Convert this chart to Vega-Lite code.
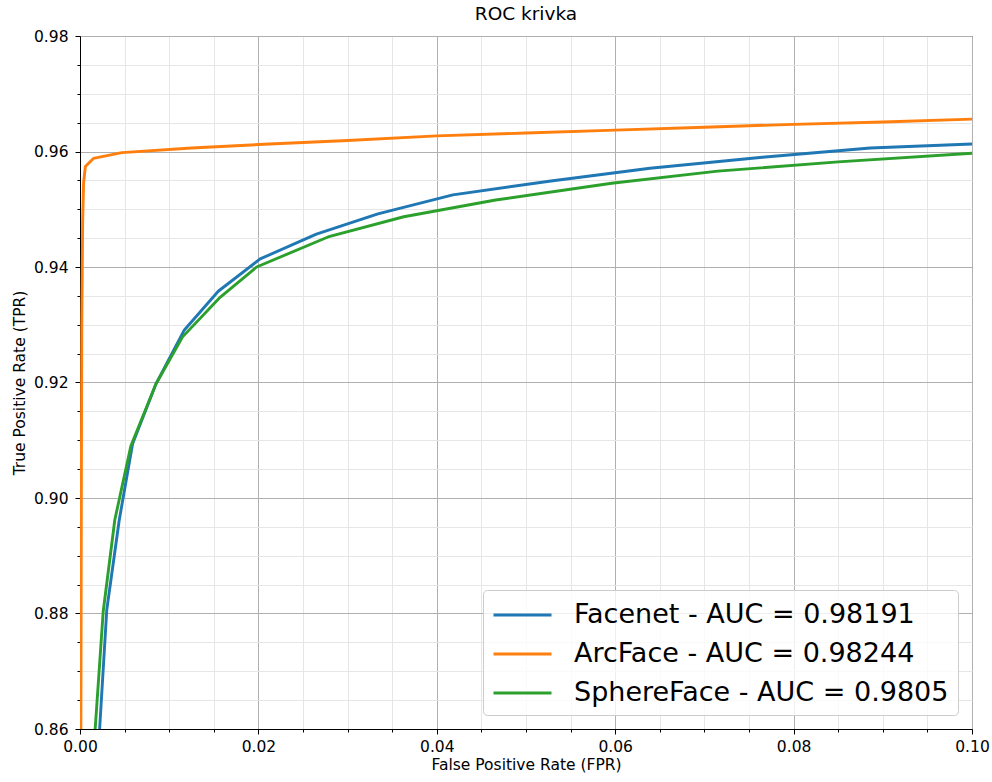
{
  "$schema": "https://vega.github.io/schema/vega-lite/v6.json",
  "width": 892,
  "height": 693,
  "autosize": "none",
  "padding": {"left": 80, "top": 36, "right": 20, "bottom": 53},
  "title": {"text": "ROC krivka", "fontSize": 18.5, "fontWeight": "normal", "color": "black", "offset": 6, "anchor": "middle"},
  "data": {"values": [
    {"model": "ArcFace - AUC = 0.98244", "fpr": 0.0001, "tpr": 0.86},
    {"model": "ArcFace - AUC = 0.98244", "fpr": 0.00015, "tpr": 0.90},
    {"model": "ArcFace - AUC = 0.98244", "fpr": 0.0002, "tpr": 0.93},
    {"model": "ArcFace - AUC = 0.98244", "fpr": 0.0003, "tpr": 0.948},
    {"model": "ArcFace - AUC = 0.98244", "fpr": 0.0004, "tpr": 0.9545},
    {"model": "ArcFace - AUC = 0.98244", "fpr": 0.0006, "tpr": 0.9574},
    {"model": "ArcFace - AUC = 0.98244", "fpr": 0.0015, "tpr": 0.9588},
    {"model": "ArcFace - AUC = 0.98244", "fpr": 0.0047, "tpr": 0.9598},
    {"model": "ArcFace - AUC = 0.98244", "fpr": 0.0125, "tpr": 0.9606},
    {"model": "ArcFace - AUC = 0.98244", "fpr": 0.02, "tpr": 0.9612},
    {"model": "ArcFace - AUC = 0.98244", "fpr": 0.03, "tpr": 0.9619},
    {"model": "ArcFace - AUC = 0.98244", "fpr": 0.04, "tpr": 0.9627},
    {"model": "ArcFace - AUC = 0.98244", "fpr": 0.05, "tpr": 0.9632},
    {"model": "ArcFace - AUC = 0.98244", "fpr": 0.06, "tpr": 0.9637},
    {"model": "ArcFace - AUC = 0.98244", "fpr": 0.07, "tpr": 0.9642},
    {"model": "ArcFace - AUC = 0.98244", "fpr": 0.08, "tpr": 0.9647},
    {"model": "ArcFace - AUC = 0.98244", "fpr": 0.09, "tpr": 0.9651},
    {"model": "ArcFace - AUC = 0.98244", "fpr": 0.1, "tpr": 0.9656},
    {"model": "Facenet - AUC = 0.98191", "fpr": 0.0022, "tpr": 0.86},
    {"model": "Facenet - AUC = 0.98191", "fpr": 0.0030, "tpr": 0.8806},
    {"model": "Facenet - AUC = 0.98191", "fpr": 0.0044, "tpr": 0.8962},
    {"model": "Facenet - AUC = 0.98191", "fpr": 0.0059, "tpr": 0.9094},
    {"model": "Facenet - AUC = 0.98191", "fpr": 0.0085, "tpr": 0.9197},
    {"model": "Facenet - AUC = 0.98191", "fpr": 0.0117, "tpr": 0.9291},
    {"model": "Facenet - AUC = 0.98191", "fpr": 0.0155, "tpr": 0.9358},
    {"model": "Facenet - AUC = 0.98191", "fpr": 0.0202, "tpr": 0.9414},
    {"model": "Facenet - AUC = 0.98191", "fpr": 0.0265, "tpr": 0.9457},
    {"model": "Facenet - AUC = 0.98191", "fpr": 0.0334, "tpr": 0.9492},
    {"model": "Facenet - AUC = 0.98191", "fpr": 0.0418, "tpr": 0.9525},
    {"model": "Facenet - AUC = 0.98191", "fpr": 0.0528, "tpr": 0.9549},
    {"model": "Facenet - AUC = 0.98191", "fpr": 0.0639, "tpr": 0.9571},
    {"model": "Facenet - AUC = 0.98191", "fpr": 0.0765, "tpr": 0.9590},
    {"model": "Facenet - AUC = 0.98191", "fpr": 0.0886, "tpr": 0.9606},
    {"model": "Facenet - AUC = 0.98191", "fpr": 0.1, "tpr": 0.9613},
    {"model": "SphereFace - AUC = 0.9805", "fpr": 0.0017, "tpr": 0.86},
    {"model": "SphereFace - AUC = 0.9805", "fpr": 0.0026, "tpr": 0.8803},
    {"model": "SphereFace - AUC = 0.9805", "fpr": 0.0039, "tpr": 0.8962},
    {"model": "SphereFace - AUC = 0.9805", "fpr": 0.0057, "tpr": 0.9090},
    {"model": "SphereFace - AUC = 0.9805", "fpr": 0.0085, "tpr": 0.9197},
    {"model": "SphereFace - AUC = 0.9805", "fpr": 0.0115, "tpr": 0.9279},
    {"model": "SphereFace - AUC = 0.9805", "fpr": 0.0156, "tpr": 0.9346},
    {"model": "SphereFace - AUC = 0.9805", "fpr": 0.0198, "tpr": 0.9400},
    {"model": "SphereFace - AUC = 0.9805", "fpr": 0.0278, "tpr": 0.9452},
    {"model": "SphereFace - AUC = 0.9805", "fpr": 0.0363, "tpr": 0.9487},
    {"model": "SphereFace - AUC = 0.9805", "fpr": 0.0466, "tpr": 0.9516},
    {"model": "SphereFace - AUC = 0.9805", "fpr": 0.0596, "tpr": 0.9545},
    {"model": "SphereFace - AUC = 0.9805", "fpr": 0.0715, "tpr": 0.9566},
    {"model": "SphereFace - AUC = 0.9805", "fpr": 0.085, "tpr": 0.9582},
    {"model": "SphereFace - AUC = 0.9805", "fpr": 0.1, "tpr": 0.9597}
  ]},
  "mark": {"type": "line", "strokeWidth": 2.9, "clip": true, "strokeJoin": "round"},
  "encoding": {
    "x": {
      "field": "fpr", "type": "quantitative",
      "scale": {"domain": [0, 0.1], "nice": false, "zero": false},
      "axis": {
        "title": "False Positive Rate (FPR)",
        "values": [0, 0.005, 0.01, 0.015, 0.02, 0.025, 0.03, 0.035, 0.04, 0.045, 0.05, 0.055, 0.06, 0.065, 0.07, 0.075, 0.08, 0.085, 0.09, 0.095, 0.1],
        "labelExpr": "abs(datum.value*50 - round(datum.value*50)) < 1e-6 ? format(datum.value, '.2f') : ''",
        "gridColor": {"condition": {"test": "abs(datum.value*50 - round(datum.value*50)) < 1e-6", "value": "#b0b0b0"}, "value": "#e6e6e6"},
        "tickSize": {"condition": {"test": "abs(datum.value*50 - round(datum.value*50)) < 1e-6", "value": 5}, "value": 3},
        "labelPadding": 5,
        "titlePadding": 3
      }
    },
    "y": {
      "field": "tpr", "type": "quantitative",
      "scale": {"domain": [0.86, 0.98], "nice": false, "zero": false},
      "axis": {
        "title": "True Positive Rate (TPR)",
        "values": [0.86, 0.865, 0.87, 0.875, 0.88, 0.885, 0.89, 0.895, 0.9, 0.905, 0.91, 0.915, 0.92, 0.925, 0.93, 0.935, 0.94, 0.945, 0.95, 0.955, 0.96, 0.965, 0.97, 0.975, 0.98],
        "labelExpr": "abs(datum.value*50 - round(datum.value*50)) < 1e-6 ? format(datum.value, '.2f') : ''",
        "gridColor": {"condition": {"test": "abs(datum.value*50 - round(datum.value*50)) < 1e-6", "value": "#b0b0b0"}, "value": "#e6e6e6"},
        "tickSize": {"condition": {"test": "abs(datum.value*50 - round(datum.value*50)) < 1e-6", "value": 5}, "value": 3},
        "labelPadding": 7,
        "titlePadding": 6
      }
    },
    "color": {
      "field": "model", "type": "nominal",
      "scale": {
        "domain": ["Facenet - AUC = 0.98191", "ArcFace - AUC = 0.98244", "SphereFace - AUC = 0.9805"],
        "range": ["#1f77b4", "#ff7f0e", "#2ca02c"]
      },
      "legend": {
        "title": null,
        "orient": "bottom-right",
        "offset": 14,
        "symbolType": "M-1,0H3",
        "symbolSize": 841,
        "symbolStrokeWidth": 3,
        "symbolFillColor": "transparent",
        "labelFontSize": 27,
        "labelOffset": 50,
        "labelLimit": 0,
        "labelColor": "black",
        "rowPadding": 10,
        "padding": 9,
        "fillColor": "rgba(255,255,255,0.8)",
        "strokeColor": "#cccccc",
        "cornerRadius": 4
      }
    }
  },
  "config": {
    "font": "DejaVu Sans",
    "view": {"stroke": "black", "strokeWidth": 1},
    "axis": {
      "labelFontSize": 15.5,
      "titleFontSize": 15.5,
      "titleFontWeight": "normal",
      "labelColor": "black",
      "titleColor": "black",
      "domainColor": "black",
      "tickColor": "black",
      "grid": true,
      "gridWidth": 1,
      "labelOverlap": false,
      "labelFlush": false
    }
  }
}
